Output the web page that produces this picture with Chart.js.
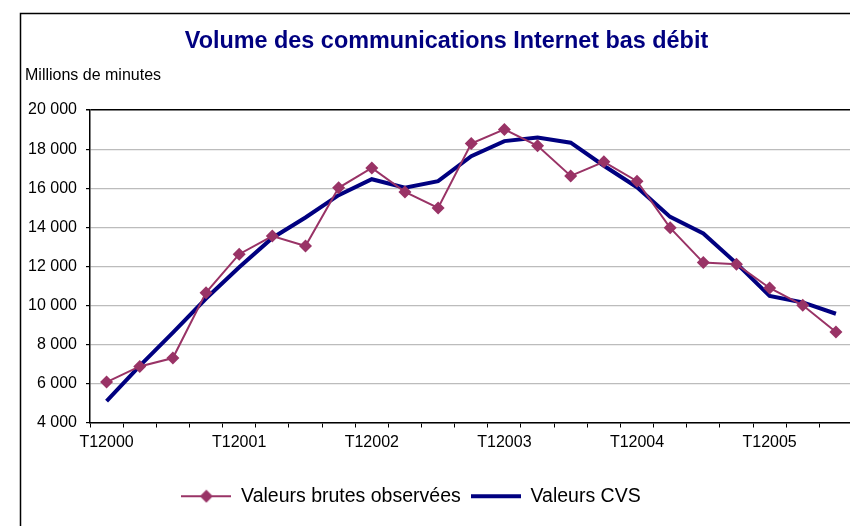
<!DOCTYPE html>
<html>
<head>
<meta charset="utf-8">
<script src="https://cdn.jsdelivr.net/npm/chart.js@4/dist/chart.umd.min.js"></script>
<style>
  html, body { margin: 0; padding: 0; background: #fff; overflow: hidden; }
  #wrap { width: 859px; height: 526px; }
</style>
</head>
<body>
<div id="wrap"><canvas id="chart" width="859" height="526"></canvas></div>
<script>
const quarters = [
  'T12000', 'T22000', 'T32000', 'T42000',
  'T12001', 'T22001', 'T32001', 'T42001',
  'T12002', 'T22002', 'T32002', 'T42002',
  'T12003', 'T22003', 'T32003', 'T42003',
  'T12004', 'T22004', 'T32004', 'T42004',
  'T12005', 'T22005', 'T32005'
];
const brutes = [6070, 6870, 7300, 10650, 12620, 13550, 13040, 16020, 17040, 15810, 14990, 18290,
  19010, 18170, 16630, 17350, 16360, 13970, 12190, 12100, 10890, 10000, 8630];
const cvs = [5090, 6900, 8600, 10350, 11950, 13450, 14500, 15640, 16460, 16030, 16360, 17640,
  18410, 18600, 18330, 17150, 16050, 14530, 13680, 12150, 10480, 10150, 9570];

const plum = '#993366';
const navy = '#000080';

// small canvases used as legend symbols (line + marker)
function legendSymbol(color, width, diamond) {
  const c = document.createElement('canvas');
  c.width = 50; c.height = 14;
  const ctx = c.getContext('2d');
  ctx.strokeStyle = color;
  ctx.lineWidth = width;
  ctx.beginPath(); ctx.moveTo(0, 7); ctx.lineTo(50, 7); ctx.stroke();
  if (diamond) {
    ctx.fillStyle = color;
    ctx.beginPath();
    ctx.moveTo(25, 0.5); ctx.lineTo(31.5, 7); ctx.lineTo(25, 13.5); ctx.lineTo(18.5, 7);
    ctx.closePath(); ctx.fill();
  }
  return c;
}
const symBrutes = legendSymbol(plum, 2, true);
const symCvs = legendSymbol(navy, 4, false);

const fmt = v => String(v).replace(/\B(?=(\d{3})+(?!\d))/g, ' ');

const frame = {
  id: 'frame',
  afterLayout(chart) {
    chart.titleBlock.left += 17.5; chart.titleBlock.right += 17.5;
    chart.legend.left -= 18; chart.legend.right -= 18;
  },
  beforeDraw(chart) {
    const ctx = chart.ctx;
    ctx.save();
    ctx.strokeStyle = '#000';
    ctx.lineWidth = 1.5;
    ctx.beginPath();
    ctx.moveTo(20.5, 530); ctx.lineTo(20.5, 13.5); ctx.lineTo(865, 13.5);
    ctx.stroke();
    ctx.fillStyle = '#000';
    ctx.font = '16px "Liberation Sans", Arial, sans-serif';
    ctx.textBaseline = 'alphabetic';
    ctx.fillText('Millions de minutes', 25, 80);
    ctx.restore();
  }
};

new Chart(document.getElementById('chart'), {
  type: 'line',
  data: {
    labels: quarters,
    datasets: [
      {
        label: 'Valeurs brutes observées',
        data: brutes,
        borderColor: plum,
        backgroundColor: plum,
        borderWidth: 2,
        pointStyle: 'rectRot',
        pointRadius: 6.5,
        pointBorderWidth: 0,
        tension: 0
      },
      {
        label: 'Valeurs CVS',
        data: cvs,
        borderColor: navy,
        backgroundColor: navy,
        borderWidth: 4,
        pointRadius: 0,
        tension: 0
      }
    ]
  },
  options: {
    responsive: false,
    devicePixelRatio: 1,
    animation: false,
    layout: { padding: { left: 0, right: 1, top: 0, bottom: 10 } },
    plugins: {
      tooltip: { enabled: false },
      title: {
        display: true,
        text: 'Volume des communications Internet bas débit',
        color: navy,
        font: { family: '"Liberation Sans", Arial, sans-serif', size: 23.4, weight: 'bold', lineHeight: 1.2 },
        padding: { top: 27.5, bottom: 54.5 }
      },
      legend: {
        position: 'bottom',
        labels: {
          color: '#000',
          font: { family: '"Liberation Sans", Arial, sans-serif', size: 19.5 },
          usePointStyle: true,
          pointStyleWidth: 50,
          padding: 10,
          generateLabels: () => [
            { text: 'Valeurs brutes observées', pointStyle: symBrutes, datasetIndex: 0, fontColor: '#000', lineWidth: 0 },
            { text: 'Valeurs CVS', pointStyle: symCvs, datasetIndex: 1, fontColor: '#000', lineWidth: 0 }
          ]
        }
      }
    },
    scales: {
      x: {
        offset: true,
        afterFit: s => { s.height = 54; },
        border: { color: '#000', width: 1.5 },
        grid: { offset: true, drawOnChartArea: false, tickColor: '#000', tickLength: 5 },
        ticks: {
          autoSkip: false,
          maxRotation: 0,
          padding: 5,
          color: '#000',
          font: { family: '"Liberation Sans", Arial, sans-serif', size: 16 },
          callback: function (v, i) { return i % 4 === 0 ? this.getLabelForValue(v) : ''; }
        }
      },
      y: {
        min: 4000,
        max: 20000,
        afterFit: s => { s.width = 90; },
        border: { color: '#000', width: 1.5 },
        grid: {
          color: ctx => ctx.tick && ctx.tick.value === 20000 ? '#000' : '#bcbcbc',
          lineWidth: ctx => ctx.tick && ctx.tick.value === 20000 ? 1.5 : 1.2,
          tickColor: '#000',
          tickLength: 4
        },
        ticks: {
          stepSize: 2000,
          padding: 9,
          color: '#000',
          font: { family: '"Liberation Sans", Arial, sans-serif', size: 16 },
          callback: v => fmt(v)
        }
      }
    }
  },
  plugins: [frame]
});
</script>
</body>
</html>
